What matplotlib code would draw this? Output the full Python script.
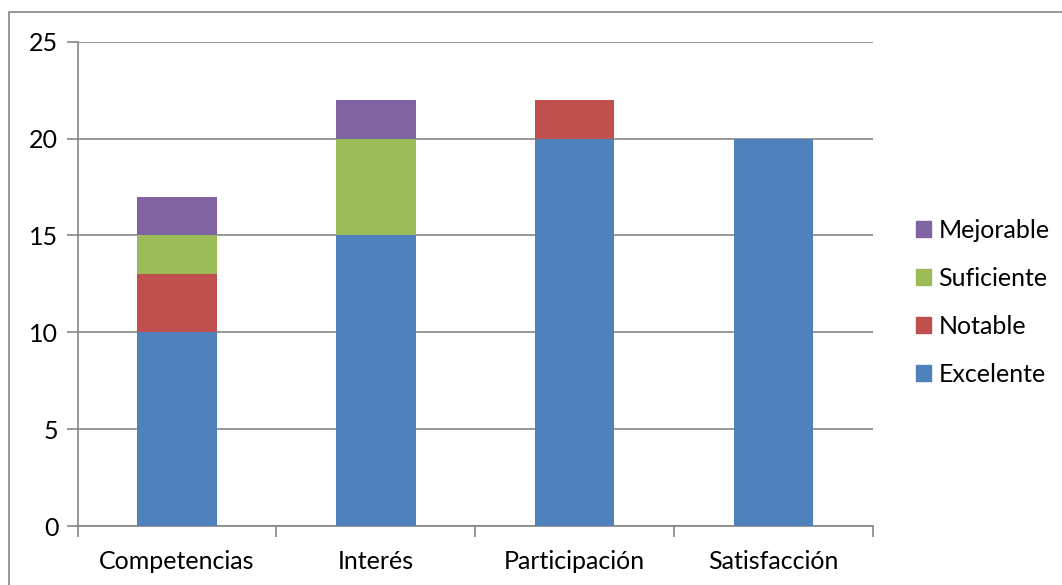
import numpy as np
import matplotlib.pyplot as plt
from matplotlib.patches import Rectangle, Patch

plt.rcParams['font.family'] = ['Lato', 'DejaVu Sans']

categorias = ['Competencias', 'Interés', 'Participación', 'Satisfacción']
excelente = [10, 15, 20, 20]
notable = [3, 0, 2, 0]
suficiente = [2, 5, 0, 0]
mejorable = [2, 2, 0, 0]

series = [('Excelente', excelente, '#4F81BD'),
          ('Notable', notable, '#C0504D'),
          ('Suficiente', suficiente, '#9BBB59'),
          ('Mejorable', mejorable, '#8064A2')]

grid_col = '#868686'

fig = plt.figure(figsize=(10.62, 5.85), dpi=100)
ax = fig.add_axes([77.7 / 1062, 1 - 526 / 585, (872.7 - 77.7) / 1062, (526 - 41.7) / 585])

x = np.arange(len(categorias))
bottom = np.zeros(len(categorias))
for nombre, vals, col in series:
    ax.bar(x, vals, width=0.4, bottom=bottom, color=col, zorder=3)
    bottom += np.array(vals)

ax.set_xlim(-0.5, len(categorias) - 0.5)
ax.set_ylim(0, 25)
ax.set_yticks(range(0, 26, 5))
ax.yaxis.grid(True, color=grid_col, linewidth=1.2, zorder=0)
ax.set_xticks(x)
ax.set_xticklabels(categorias)
ax.set_xticks(np.arange(-0.5, len(categorias)), minor=True)
ax.tick_params(axis='x', which='major', length=0, pad=17, labelsize=18)
ax.tick_params(axis='x', which='minor', length=8, color=grid_col, width=1.2)
ax.tick_params(axis='y', length=8, color=grid_col, width=1.2, pad=6, labelsize=18)

for s in ['top', 'right']:
    ax.spines[s].set_visible(False)
for s in ['left', 'bottom']:
    ax.spines[s].set_color(grid_col)
    ax.spines[s].set_linewidth(1.2)

handles = [Patch(color=col, label=nombre) for nombre, vals, col in series][::-1]
ax.legend(handles=handles, loc='center left', bbox_to_anchor=(916 / 1062, 1 - 302 / 585),
          bbox_transform=fig.transFigure, frameon=False, fontsize=18,
          handlelength=0.6, handleheight=0.6, handletextpad=0.3, labelspacing=1.0,
          borderpad=0, borderaxespad=0)

# marco exterior del gráfico
fig.patches.append(Rectangle((9 / 1062, -0.1), 1.2, 1 - 12 / 585 + 0.1, transform=fig.transFigure,
                             fill=False, edgecolor=grid_col, linewidth=1.2))

fig.savefig('out.png', dpi=100)
